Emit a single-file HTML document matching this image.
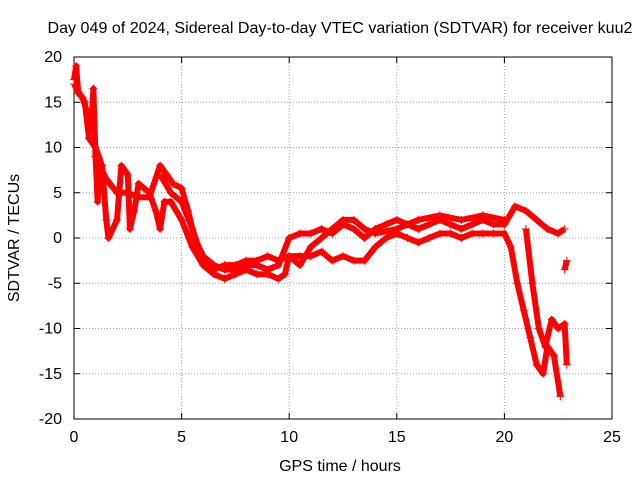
<!DOCTYPE html>
<html><head><meta charset="utf-8"><style>
body{margin:0;background:#fff;}
svg{display:block;font-family:"Liberation Sans",sans-serif;}
</style></head><body>
<svg id="chart" width="640" height="480" viewBox="0 0 640 480">
<text x="340" y="33" font-size="16" text-anchor="middle" textLength="585" lengthAdjust="spacingAndGlyphs" fill="#000">Day 049 of 2024, Sidereal Day-to-day VTEC variation (SDTVAR) for receiver kuu2</text>
<text x="340" y="471" font-size="16" text-anchor="middle">GPS time / hours</text>
<text transform="translate(19,238) rotate(-90)" font-size="16" text-anchor="middle">SDTVAR / TECUs</text>
<g id="grid"></g>
<g id="axes"></g>
<g id="marks"></g>
</svg>
<script>
const xTicks=[0,5,10,15,20,25];
const yTicks=[-20,-15,-10,-5,0,5,10,15,20];
const trackA=[[0,17.5],[0.1,19],[0.2,16],[0.4,15.5],[0.6,14],[0.8,12],[0.9,16.5],[1.0,9],[1.1,4],[1.2,8],[1.5,6.5],[2,5],[2.5,5],[3,4.5],[3.5,4.5],[4,8],[4.3,7],[4.6,6],[5,5.5],[5.3,3],[5.6,0],[6,-2],[6.5,-3],[7,-3.5],[7.5,-3.5],[8,-3],[8.5,-3],[9,-3.5],[9.5,-3],[10,0],[10.5,0.5],[11,0.5],[11.5,1],[12,0.5],[12.5,1.5],[13,1],[13.5,0],[14,1],[14.5,1.5],[15,2],[15.5,1.5],[16,1],[16.5,1.5],[17,2],[17.5,1.5],[18,1],[18.5,1.5],[19,2],[19.5,1.5],[20,1.5],[20.5,3.5],[21,3],[21.5,2],[22,1],[22.5,0.5],[22.8,1]];
const trackB=[[0,17],[0.5,15],[0.7,11],[1,10],[1.3,8],[1.5,2],[1.6,0],[2,2],[2.2,8],[2.5,7],[2.6,1],[2.8,3],[3,6],[3.5,5],[3.8,3],[4,1],[4.2,4],[4.5,4],[5,2],[5.5,-1],[6,-3],[6.5,-4],[7,-4.5],[7.5,-4],[8,-3.5],[8.5,-4],[9,-4],[9.5,-4.5],[9.8,-4],[10,-2],[10.5,-2],[11,-2],[11.5,-1.5],[12,-2.5],[12.5,-2],[13,-2.5],[13.5,-2.5],[14,-1],[14.5,0],[15,0.5],[15.5,0],[16,-0.5],[16.5,0],[17,0.5],[17.5,0.5],[18,0],[18.5,0.5],[19,0.5],[19.5,0.5],[20,0.5],[20.3,-1],[20.6,-5],[20.9,-8],[21.2,-11],[21.5,-14],[21.8,-15],[22,-12],[22.3,-13],[22.6,-17.5]];
const trackC=[[4,7],[4.5,5],[5,4],[5.5,1],[6,-2.5],[6.5,-3.5],[7,-3],[7.5,-3],[8,-2.5],[8.5,-2.5],[9,-2],[9.5,-2.5],[10,-2],[10.5,-3],[11,-1],[11.5,0],[12,1],[12.5,2],[13,2],[13.5,1],[14,0.5],[15,1],[16,2],[17,2.5],[18,2],[19,2.5],[20,2]];
const trackD=[[21,1],[21.3,-5],[21.6,-10],[21.9,-12],[22.2,-9],[22.5,-10],[22.8,-9.5],[22.9,-14]];
const trackE=[[22.8,-3.5],[22.9,-2.5]];
const X0=74,X1=612,Y0=419,Y1=57;
const sx=v=>X0+(v-0)/(25-0)*(X1-X0);
const sy=v=>Y0-(v+20)/40*(Y0-Y1);
const NS="http://www.w3.org/2000/svg";
const mk=(t,a,p)=>{const e=document.createElementNS(NS,t);for(const k in a)e.setAttribute(k,a[k]);p.appendChild(e);return e;};
const grid=document.getElementById('grid'),axes=document.getElementById('axes'),marks=document.getElementById('marks');
xTicks.forEach(t=>{const x=sx(t);
 if(t>0&&t<25){const g=mk('line',{x1:x,x2:x,y1:Y1,y2:Y0,stroke:'#a0a0a0','stroke-dasharray':'1,2'},grid);
 
 }
 const l=mk('text',{x:x,y:Y0+23,'font-size':16,'text-anchor':'middle'},axes);l.textContent=t;
 
 
 mk('line',{x1:x,x2:x,y1:Y0,y2:Y0-6,stroke:'#000'},axes);mk('line',{x1:x,x2:x,y1:Y1,y2:Y1+6,stroke:'#000'},axes);});
yTicks.forEach(t=>{const y=sy(t);
 if(t>-20&&t<20){const g=mk('line',{x1:X0,x2:X1,y1:y,y2:y,stroke:'#a0a0a0','stroke-dasharray':'1,2'},grid);
 
 }
 const l=mk('text',{x:X0-12,y:y+5,'font-size':16,'text-anchor':'end'},axes);l.textContent=t;
 
 
 mk('line',{x1:X0,x2:X0+6,y1:y,y2:y,stroke:'#000'},axes);mk('line',{x1:X1,x2:X1-6,y1:y,y2:y,stroke:'#000'},axes);});
const fr=mk('rect',{x:X0,y:Y1,width:X1-X0,height:Y0-Y1,fill:'none',stroke:'#000'},axes);


[trackA,trackB,trackC,trackD,trackE].forEach((tr,i)=>{
 const pl=mk('polyline',{points:tr.map(p=>sx(p[0])+','+sy(p[1])).join(' '),fill:'none',stroke:'#f00','stroke-width':6,'stroke-linejoin':'round'},marks);
 
 
 tr.forEach(p=>{const x=sx(p[0]),y=sy(p[1]);
  const m=mk('path',{d:`M${x-4},${y}h8M${x},${y-4}v8`,stroke:'#f00','stroke-width':1},marks);
  
  });
});
</script>
</body></html>
